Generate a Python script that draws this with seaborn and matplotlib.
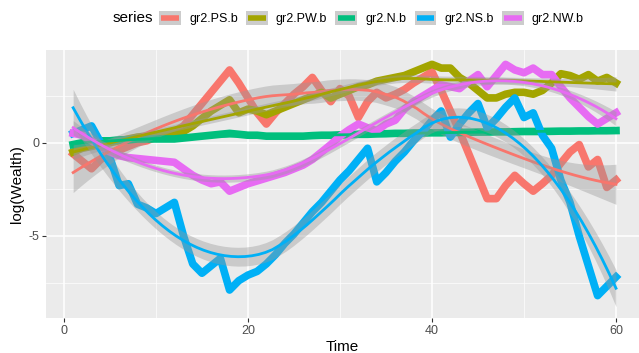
import numpy as np
import pandas as pd
import seaborn as sns
import matplotlib
matplotlib.use("Agg")
import matplotlib.pyplot as plt
from matplotlib.patches import Rectangle
from matplotlib.lines import Line2D
from matplotlib.legend_handler import HandlerBase
from matplotlib.ticker import MultipleLocator

# %%
time = list(range(1, 61))

ps = [-0.6, -1.0, -1.4, -0.9, -0.6, -0.4, -0.2, 0.0, 0.1, 0.3,
      0.5, 0.6, 0.9, 1.5, 2.1, 2.7, 3.3, 3.9, 3.2, 2.4,
      1.6, 1.0, 1.6, 2.1, 2.6, 3.0, 3.5, 2.8, 2.2, 2.9,
      2.5, 1.35, 2.2, 2.7, 2.4, 2.6, 2.85, 3.2, 3.5, 3.8,
      2.8, 1.7, 0.6, -0.6, -1.8, -3.0, -3.0, -2.3, -1.75, -2.2,
      -2.6, -2.2, -1.75, -1.1, -0.5, -0.1, -1.3, -0.9, -2.4, -2.0]

pw = [-0.5, -0.3, -0.2, -0.1, 0.0, 0.1, 0.2, 0.3, 0.35, 0.4,
      0.5, 0.5, 0.6, 0.9, 1.3, 1.7, 2.0, 2.3, 1.6, 1.8,
      1.7, 1.5, 1.7, 1.9, 2.1, 2.3, 2.5, 2.7, 2.4, 2.6,
      2.8, 3.0, 3.1, 3.3, 3.4, 3.5, 3.6, 3.8, 4.0, 4.2,
      4.0, 4.0, 3.5, 3.2, 2.8, 2.4, 2.4, 2.6, 2.7, 2.7,
      2.6, 2.8, 3.2, 3.7, 3.6, 3.4, 3.65, 3.3, 3.5, 3.2]

n = [-0.1, 0.0, 0.05, 0.1, 0.1, 0.15, 0.15, 0.2, 0.2, 0.2,
     0.2, 0.2, 0.25, 0.3, 0.35, 0.4, 0.45, 0.5, 0.45, 0.4,
     0.4, 0.35, 0.35, 0.35, 0.35, 0.35, 0.38, 0.4, 0.4, 0.42,
     0.42, 0.45, 0.45, 0.47, 0.48, 0.5, 0.5, 0.52, 0.52, 0.53,
     0.53, 0.55, 0.55, 0.56, 0.57, 0.57, 0.58, 0.58, 0.59, 0.6,
     0.6, 0.6, 0.61, 0.62, 0.62, 0.63, 0.63, 0.64, 0.64, 0.65]

ns = [0.5, 0.7, 0.9, 0.0, -0.8, -2.3, -2.2, -3.3, -3.5, -3.8,
      -3.5, -3.2, -5.0, -6.5, -7.0, -6.6, -6.2, -7.9, -7.4, -7.1,
      -6.9, -6.5, -6.0, -5.4, -4.9, -4.3, -3.7, -3.2, -2.6, -2.0,
      -1.5, -0.9, -0.3, -2.1, -1.6, -1.0, -0.5, 0.1, 0.6, 1.2,
      1.7, 0.3, 1.0, 1.6, 2.1, 0.8, 1.3, 1.9, 2.4, 1.35,
      1.6, 0.4, -0.3, -2.0, -3.2, -5.0, -6.6, -8.2, -7.7, -7.2]

nw = [0.5, 0.4, 0.1, -0.2, -0.5, -0.7, -0.8, -0.85, -0.9, -0.95,
      -1.0, -1.05, -1.4, -1.75, -2.0, -2.2, -2.1, -2.6, -2.4, -2.2,
      -2.05, -1.9, -1.75, -1.6, -1.4, -1.2, -0.9, -0.5, -0.1, 0.35,
      0.7, 1.0, 0.8, 0.65, 1.0, 1.2, 1.8, 2.2, 2.5, 2.8,
      3.1, 3.0, 2.9, 3.3, 3.65, 3.0, 3.6, 4.2, 3.9, 3.75,
      4.0, 3.65, 3.65, 3.0, 2.4, 1.9, 1.4, 1.0, 1.3, 1.6]

series_names = ["gr2.PS.b", "gr2.PW.b", "gr2.N.b", "gr2.NS.b", "gr2.NW.b"]
colors = ["#F8766D", "#A3A500", "#00BF7D", "#00B0F6", "#E76BF3"]


# %%
def loess_matrix(x, xg, span=0.75):
    # local quadratic, tricube weights (like R loess defaults)
    q = int(np.floor(len(x) * span))
    L = np.zeros((len(xg), len(x)))
    for i, x0 in enumerate(xg):
        d = np.abs(x - x0)
        h = np.sort(d)[q - 1]
        w = np.clip(1 - (d / h) ** 3, 0, None) ** 3
        X = np.column_stack([np.ones_like(x), x - x0, (x - x0) ** 2])
        XtW = X.T * w
        L[i] = np.linalg.solve(XtW @ X, XtW)[0]
    return L


def loess_fit(x, y, xg):
    x = np.asarray(x, float)
    y = np.asarray(y, float)
    Lg = loess_matrix(x, xg)
    Lx = loess_matrix(x, x)
    resid = y - Lx @ y
    R = np.eye(len(x)) - Lx
    delta1 = np.trace(R.T @ R)
    sigma = np.sqrt(np.sum(resid ** 2) / delta1)
    se = sigma * np.sqrt(np.sum(Lg ** 2, axis=1))
    fit = Lg @ y
    return fit, fit - 2.01 * se, fit + 2.01 * se


class KeyHandler(HandlerBase):
    # grey key background with a coloured line, like a ggplot smooth key
    def create_artists(self, legend, orig_handle, xdescent, ydescent,
                       width, height, fontsize, trans):
        bg = Rectangle((-xdescent, -ydescent), width, height,
                       facecolor="#CCCCCC", edgecolor="none", transform=trans)
        ln = Line2D([-xdescent + 0.1 * width, -xdescent + 0.9 * width],
                    [-ydescent + height / 2] * 2,
                    color=orig_handle.get_color(), linewidth=4,
                    solid_capstyle="butt", transform=trans)
        return [bg, ln]


df = pd.DataFrame({"Time": time * 5,
                   "value": ps + pw + n + ns + nw,
                   "series": np.repeat(series_names, 60)})
pal = dict(zip(series_names, colors))

rows = []
xg = np.linspace(1, 60, 80)
for s in series_names:
    sub = df[df["series"] == s]
    fit, lo, hi = loess_fit(sub["Time"], sub["value"], xg)
    rows.append(pd.DataFrame({"Time": xg, "fit": fit, "lo": lo, "hi": hi,
                              "series": s}))
smooth = pd.concat(rows)

# %%
plt.rcParams["font.family"] = ["Liberation Sans", "DejaVu Sans"]
plt.rcParams["axes.unicode_minus"] = False

fig = plt.figure(figsize=(6.39, 3.53), dpi=100)
ax = fig.add_axes([46 / 639, 35 / 353, 1 - 46 / 639, 268 / 353])
ax.set_facecolor("#EBEBEB")

sns.lineplot(data=df, x="Time", y="value", hue="series", palette=pal,
             linewidth=5.5, legend=False, ax=ax, zorder=2,
             solid_joinstyle="round")

for s in series_names:
    sm = smooth[smooth["series"] == s]
    ax.fill_between(sm["Time"], sm["lo"], sm["hi"], color="#999999",
                    alpha=0.4, linewidth=0, zorder=3)
    sns.lineplot(data=sm, x="Time", y="fit", color=pal[s], linewidth=2,
                 ax=ax, zorder=3)

ax.set_xlim(-1.95, 62.5)
ax.set_ylim(-9.4, 4.97)
ax.xaxis.set_major_locator(MultipleLocator(20))
ax.xaxis.set_minor_locator(MultipleLocator(10))
ax.yaxis.set_major_locator(MultipleLocator(5))
ax.yaxis.set_minor_locator(MultipleLocator(2.5))
ax.grid(which="major", color="white", linewidth=1.1)
ax.grid(which="minor", color="white", linewidth=0.5)
ax.set_axisbelow(True)
for sp in ax.spines.values():
    sp.set_visible(False)
ax.tick_params(which="major", length=3, color="#333333", labelsize=9,
               labelcolor="#4D4D4D", pad=2)
ax.tick_params(which="minor", length=0)
ax.set_xlabel("Time", fontsize=11, labelpad=2)
ax.set_ylabel("log(Wealth)", fontsize=11, labelpad=3)

handles = [Line2D([], [], color=c) for c in colors]
fig.legend(handles, series_names, loc="center left",
           bbox_to_anchor=(159 / 639, 1 - 18 / 353), ncol=5,
           frameon=False, fontsize=9,
           handler_map={Line2D: KeyHandler()},
           handlelength=1.75, handleheight=1.4, columnspacing=0.65,
           handletextpad=0.65, borderpad=0, borderaxespad=0)
fig.text(153 / 639, 1 - 18 / 353, "series", ha="right", va="center",
         fontsize=11)

fig.savefig("out.png", dpi=100)
